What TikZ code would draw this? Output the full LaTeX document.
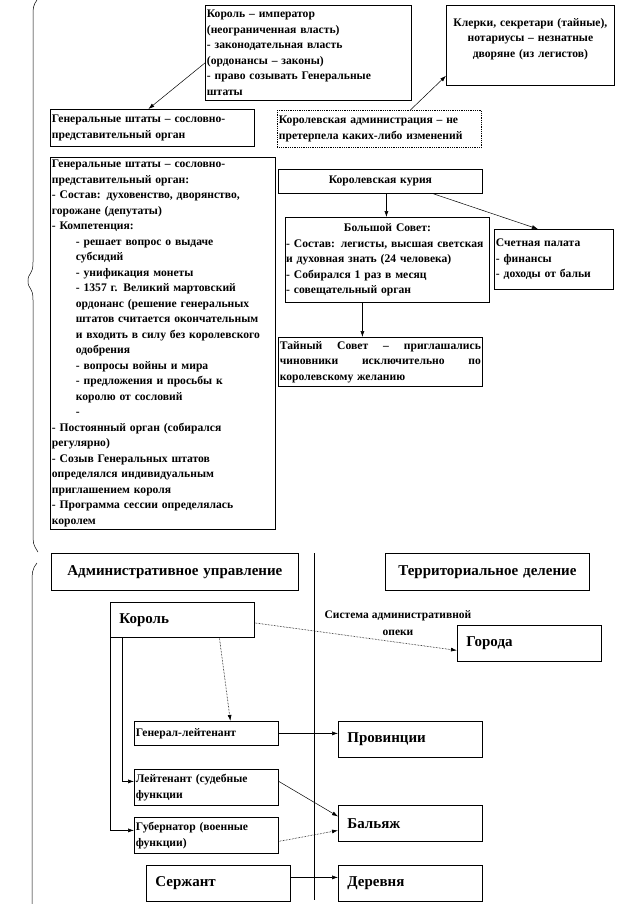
\documentclass[tikz,border=0pt]{standalone}
\usepackage{fontspec}
\setmainfont{Liberation Serif}
\usetikzlibrary{arrows.meta}
\newcommand\boxfont{\bfseries\fontsize{11.6}{15.5}\selectfont}
\newcommand\namefont{\bfseries\fontsize{15}{18}\selectfont}
\newcommand\headfont{\bfseries\fontsize{15}{17}\selectfont}
\newcommand\notefont{\bfseries\fontsize{11.5}{13}\selectfont}
\newcommand\ind{\hspace*{24pt}}
\newcommand\spread[1]{\makebox[\linewidth][s]{\spaceskip=0.3em plus 1fil\relax #1}}

\begin{document}
\begin{tikzpicture}[
  x=1pt, y=-1pt,
  every node/.style={font=\boxfont},
  box/.style={draw, line width=0.8pt, anchor=north west, align=left, inner xsep=1.5pt, inner ysep=1pt},
  dotbox/.style={box, densely dotted},
  namebox/.style={box, font=\namefont, inner xsep=9pt},
  headbox/.style={box, font=\headfont, align=center},
  arrow/.style={-{Latex[length=6pt,width=4pt]}, line width=0.5pt},
  dotarrow/.style={arrow, densely dotted, line width=0.7pt},
  brace/.style={line width=0.5pt}
]
  \useasboundingbox (0,0) rectangle (617,904);

  \node[box, text width=203pt, minimum height=95pt] (emp) at (205,5)
    {Король – император\\(неограниченная власть)\\- законодательная власть\\(ордонансы – законы)\\- право созывать Генеральные\\штаты};
  \node[box, align=center, text width=165pt, minimum height=80pt] (clerk) at (446,5)
    {Клерки, секретари (тайные),\\нотариусы – незнатные\\дворяне (из легистов)\\~};
  \node[box, text width=201pt, minimum height=37pt] (gs) at (50,109)
    {Генеральные штаты – сословно-\\представительный орган};
  \node[dotbox, text width=201pt, minimum height=37pt] (adm) at (277,110)
    {Королевская администрация – не\\претерпела каких-либо изменений};
  \node[box, text width=222pt, minimum height=372pt] (gsfull) at (50,157)
    {Генеральные штаты – сословно-\\представительный орган:\\- Состав: духовенство, дворянство,\\горожане (депутаты)\\- Компетенция:\\
     \ind- решает вопрос о выдаче\\\ind субсидий\\\ind- унификация монеты\\\ind- 1357 г. Великий мартовский\\
     \ind ордонанс (решение генеральных\\\ind штатов считается окончательным\\\ind и входить в силу без королевского\\
     \ind одобрения\\\ind- вопросы войны и мира\\\ind- предложения и просьбы к\\\ind королю от сословий\\\ind-\\
     - Постоянный орган (собирался\\регулярно)\\- Созыв Генеральных штатов\\определялся индивидуальным\\
     приглашением короля\\- Программа сессии определялась\\королем};
  \node[box, align=center, text width=201pt, minimum height=24pt] (curia) at (278,169) {Королевская курия};
  \node[box, inner xsep=0.8pt, text width=202.4pt, minimum height=85pt] (bigc) at (285,217)
    {\makebox[\linewidth]{Большой Совет:}\\- Состав: легисты, высшая светская\\и духовная знать (24 человека)\\- Собирался 1 раз в месяц\\- совещательный орган};
  \node[box, text width=116pt, minimum height=60pt] (chamber) at (494,229)
    {Счетная палата\\- финансы\\- доходы от бальи};
  \node[box, text width=201pt, minimum height=49pt] (secret) at (278,337)
    {\spread{Тайный Совет – приглашались}\\\spread{чиновники исключительно по}\\королевскому желанию};

  \draw[arrow] ([yshift=-10pt]emp.west) -- ([xshift=-4pt]gs.north);
  \draw[arrow] ([xshift=31pt]adm.north) -- ([yshift=10pt]clerk.south west);
  \draw[arrow] ([xshift=6pt]curia.south) -- ([xshift=6pt]curia.south |- bigc.north);
  \draw[arrow] ([xshift=53pt]curia.south) -- ([xshift=-16pt]chamber.north);
  \draw[arrow] ([xshift=-25pt]bigc.south) -- ([xshift=-25pt]bigc.south |- secret.north);

  \draw[brace] (37,0) .. controls (33,6) .. (33,22) -- (33,262) .. controls (33,276) and (28,272) .. (28,281)
    .. controls (28,290) and (33,286) .. (33,300) -- (33,532) .. controls (33,544) .. (38,552);
  \draw[brace] (37,563) .. controls (32,570) .. (32,590) -- (32,904);
  \draw (314,553) -- (314,900);

  \node[headbox, text width=244pt, minimum height=37pt] (adminhead) at (51,553) {Административное управление};
  \node[headbox, text width=201pt, minimum height=37pt] (terrhead) at (385,553) {Территориальное деление};
  \node[namebox, text width=126pt, minimum height=35pt] (king) at (110,602) {Король};
  \node[namebox, text width=126pt, minimum height=36pt] (towns) at (457,625) {Города};
  \node[font=\notefont, align=center] (opeka) at (398,623) {Система административной\\[4pt]опеки};
  \node[box, text width=141pt, minimum height=24pt] (genlt) at (134,721) {Генерал-лейтенант};
  \node[namebox, text width=126pt, minimum height=36pt] (prov) at (338,721) {Провинции};
  \node[box, text width=141pt, minimum height=36pt] (lt) at (134,769) {Лейтенант (судебные\\функции};
  \node[namebox, text width=126pt, minimum height=36pt] (bal) at (338,805) {Бальяж};
  \node[box, text width=141pt, minimum height=36pt] (gov) at (134,817) {Губернатор (военные\\функции)};
  \node[namebox, text width=126pt, minimum height=36pt] (serg) at (146,865) {Сержант};
  \node[namebox, text width=126pt, minimum height=36pt] (vil) at (338,865) {Деревня};

  \draw[dotarrow] ([yshift=-3pt]king.east) -- ([yshift=-7pt]towns.west);
  \draw[dotarrow] ([xshift=37pt]king.south) -- ([xshift=24pt]genlt.north);
  \draw[arrow] (king.south west) |- ([yshift=5pt]gov.west);
  \draw[arrow] ([xshift=12pt]king.south west) |- ([yshift=6pt]lt.west);
  \draw[arrow] (genlt.east) -- (genlt.east -| prov.west);
  \draw[arrow] ([yshift=6pt]lt.east) -- ([yshift=7pt]bal.west);
  \draw[dotarrow] ([yshift=-6pt]gov.east) -- ([yshift=-7pt]bal.west);
  \draw[arrow] ([yshift=6pt]serg.east) -- ([yshift=6pt]serg.east -| vil.west);
\end{tikzpicture}
\end{document}
